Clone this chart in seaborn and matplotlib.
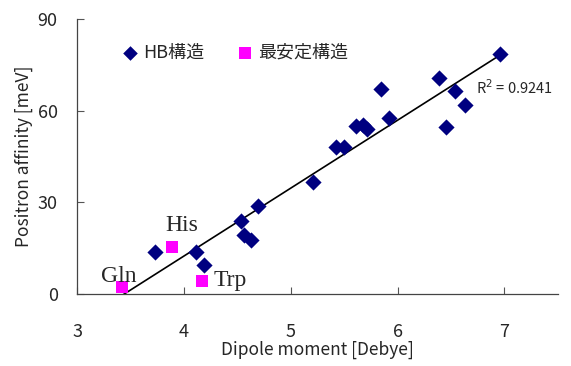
import numpy as np
import pandas as pd
import matplotlib
matplotlib.use("Agg")
import matplotlib.pyplot as plt
import seaborn as sns

# HB structures (blue diamonds)
hb_dipole = [3.73, 4.11, 4.19, 4.53, 4.56, 4.63, 4.69, 5.21, 5.42, 5.50,
             5.61, 5.68, 5.71, 5.84, 5.92, 6.39, 6.45, 6.54, 6.63, 6.96]
hb_affinity = [13.8, 13.8, 9.6, 23.9, 19.2, 17.7, 28.8, 36.8, 48.2, 48.2,
               55.1, 55.3, 53.9, 67.0, 57.6, 70.7, 54.5, 66.5, 61.8, 78.5]

# most stable structures (magenta squares)
st_names = ["Gln", "His", "Trp"]
st_dipole = [3.42, 3.89, 4.17]
st_affinity = [2.4, 15.3, 4.3]

r2_label = "R$^2$ = 0.9241"

sns.set_style("ticks")
plt.rcParams["font.family"] = ["Noto Sans CJK JP", "DejaVu Sans"]

hb = pd.DataFrame({"dipole": hb_dipole, "affinity": hb_affinity})
st = pd.DataFrame({"dipole": st_dipole, "affinity": st_affinity, "name": st_names})
both = pd.concat([hb, st[["dipole", "affinity"]]], ignore_index=True)

fig = plt.figure(figsize=(5.71, 3.66), dpi=100)
ax = fig.add_axes([0.135, 0.197, 0.842, 0.751])

# linear trend line
sns.regplot(data=both, x="dipole", y="affinity", scatter=False, ci=None,
            truncate=True, color="black", line_kws={"lw": 1.2}, ax=ax)

sns.scatterplot(data=hb, x="dipole", y="affinity", marker="D", s=68,
                color="#000080", edgecolor="#000080", linewidth=0,
                label="HB構造", ax=ax, zorder=3)
sns.scatterplot(data=st, x="dipole", y="affinity", marker="s", s=78,
                color="#FF00FF", edgecolor="#FF00FF", linewidth=0,
                label="最安定構造", ax=ax, zorder=3)

# label offsets (points) for the amino-acid names
offsets = {"Gln": (-15, 3), "His": (-5, 12), "Trp": (8, -4)}
for _, row in st.iterrows():
    ax.annotate(row["name"], (row["dipole"], row["affinity"]),
                xytext=offsets[row["name"]], textcoords="offset points",
                ha="left", va="baseline", fontsize=17, family="Liberation Serif")

ax.text(0.83, 0.75, r2_label, transform=ax.transAxes, fontsize=10.5,
        ha="left", va="center")

ax.set_xlim(3, 7.5)
ax.set_ylim(0, 90)
ax.set_xticks([3, 4, 5, 6, 7])
ax.set_yticks([0, 30, 60, 90])
ax.tick_params(direction="in", length=5, labelsize=13, width=0.8, color="#555555")
ax.tick_params(axis="x", pad=21)
ax.tick_params(axis="y", pad=14)
sns.despine(ax=ax)
for sp in ["left", "bottom"]:
    ax.spines[sp].set_color("#444444")
    ax.spines[sp].set_linewidth(0.9)

ax.set_xlabel("Dipole moment [Debye]", fontsize=12.5, labelpad=0)
ax.set_ylabel("Positron affinity [meV]", fontsize=12.5, labelpad=3)

ax.legend(loc="upper left", bbox_to_anchor=(0.05, 0.97), ncol=2,
          frameon=False, fontsize=13, handletextpad=0.0, columnspacing=1.6,
          markerscale=0.9, handlelength=1.4)

fig.savefig("out.png", dpi=100)
